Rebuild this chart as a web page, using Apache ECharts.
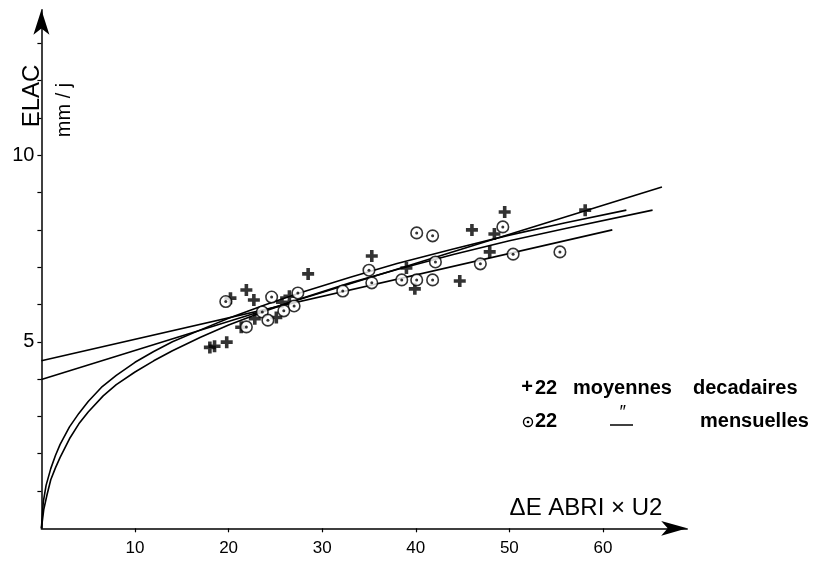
<!DOCTYPE html>
<html><head><meta charset="utf-8">
<script src="https://cdn.jsdelivr.net/npm/echarts@6/dist/echarts.min.js"></script>
<style>html,body{margin:0;padding:0;background:#fff}#c{width:819px;height:571px}</style>
</head><body><div id="c"></div>
<script>
// Axis ticks
const xTicks = [10, 20, 30, 40, 50, 60];
const yMinorTicks = [1, 2, 3, 4, 5, 6, 7, 8, 9, 10, 11, 12, 13];
const yLabels = [5, 10];

// + 22 moyennes decadaires
const decadX = [28.5, 21.9, 22.7, 20.2, 25.7, 26.5, 25.1, 22.8, 21.35, 18.0, 18.5, 19.8, 35.3, 39.0, 39.9, 44.7, 46.0, 48.4, 49.5, 47.9, 58.1];
const decadY = [6.82, 6.39, 6.12, 6.17, 6.06, 6.22, 5.65, 5.62, 5.39, 4.85, 4.88, 4.99, 7.30, 6.98, 6.42, 6.63, 8.00, 7.89, 8.48, 7.41, 8.53];

// (.) 22 mensuelles
const mensX = [19.7, 24.6, 27.4, 27.0, 25.9, 23.6, 24.2, 21.9, 32.2, 35.0, 35.3, 38.5, 40.1, 41.8, 42.1, 40.1, 41.8, 46.9, 49.3, 50.4, 55.4];
const mensY = [6.08, 6.20, 6.31, 5.96, 5.83, 5.80, 5.58, 5.40, 6.36, 6.92, 6.58, 6.66, 6.66, 6.66, 7.14, 7.92, 7.84, 7.09, 8.08, 7.35, 7.41];

// fitted lines and curves
const lineAX = [0, 61.0];
const lineAY = [4.49, 8.0];
const lineBX = [0, 66.3];
const lineBY = [3.99, 9.15];
const curveCX = [0, 0.2, 0.5, 1, 1.5, 2, 3, 4, 5, 6.5, 8, 10, 12, 14, 17, 20, 24, 28, 33, 38, 44, 50, 56, 62.5];
const curveCY = [0, 0.7, 1.15, 1.6, 1.95, 2.25, 2.72, 3.08, 3.4, 3.8, 4.1, 4.45, 4.74, 5.0, 5.32, 5.63, 6.0, 6.34, 6.73, 7.1, 7.49, 7.86, 8.19, 8.53];
const curveDX = [0, 0.25, 0.6, 1, 1.5, 2, 3, 4, 5, 6.6, 8, 10, 12, 14, 17, 20, 24, 28, 33, 38, 44, 50, 56, 65.3];
const curveDY = [0, 0.5, 0.9, 1.3, 1.62, 1.9, 2.4, 2.8, 3.12, 3.55, 3.85, 4.19, 4.49, 4.76, 5.12, 5.45, 5.83, 6.18, 6.58, 6.94, 7.34, 7.71, 8.04, 8.53];

const zip = (xs, ys) => xs.map((x, i) => [x, ys[i]]);
const INK = '#000';
const FONT = 'Liberation Sans';
const plusPath = 'path://M3.5,0 H6.5 V3.5 H10 V6.5 H6.5 V10 H3.5 V6.5 H0 V3.5 H3.5 Z';

const lineSeries = (xs, ys) => ({
  type: 'line', data: zip(xs, ys), showSymbol: false, symbol: 'none', smooth: false,
  lineStyle: { color: INK, width: 1.6, join: 'round' }, z: 2, silent: true
});

const chart = echarts.init(document.getElementById('c'), null, { renderer: 'canvas' });
chart.setOption({
  animation: false,
  backgroundColor: '#fff',
  grid: { left: 41.4, right: 131.8, top: 9.83, bottom: 42.7 },
  xAxis: {
    type: 'value', min: 0, max: 69,
    splitLine: { show: false },
    axisLine: { onZero: false, lineStyle: { color: INK, width: 1.5 }, symbol: ['none', 'arrow'], symbolSize: [11, 26] },
    axisTick: { customValues: xTicks, length: 4, lineStyle: { color: INK, width: 1.2 } },
    axisLabel: { customValues: xTicks, fontSize: 17, color: INK, margin: 12, fontFamily: FONT }
  },
  yAxis: {
    type: 'value', min: 0, max: 13.9,
    splitLine: { show: false },
    axisLine: { onZero: false, lineStyle: { color: INK, width: 1.5 }, symbol: ['none', 'arrow'], symbolSize: [12, 25] },
    axisTick: { customValues: yMinorTicks, length: 4, lineStyle: { color: INK, width: 1.2 } },
    axisLabel: { customValues: yLabels, fontSize: 20, color: INK, margin: 7, fontFamily: FONT }
  },
  series: [
    lineSeries(lineAX, lineAY),
    lineSeries(lineBX, lineBY),
    lineSeries(curveCX, curveCY),
    lineSeries(curveDX, curveDY),
    { type: 'scatter', data: zip(decadX, decadY), symbol: plusPath, symbolSize: 12,
      itemStyle: { color: INK }, z: 3 },
    { type: 'scatter', data: zip(mensX, mensY), symbol: 'circle', symbolSize: 11.5,
      itemStyle: { color: '#fff', borderColor: INK, borderWidth: 1.6 }, z: 4 },
    { type: 'scatter', data: zip(mensX, mensY), symbol: 'circle', symbolSize: 3,
      itemStyle: { color: INK }, z: 5 }
  ],
  graphic: [
    { type: 'text', x: 32.5, y: 96, rotation: Math.PI / 2,
      style: { text: 'ELAC', font: '24px ' + FONT, fill: INK, align: 'center', verticalAlign: 'middle' } },
    { type: 'text', x: 64, y: 110, rotation: Math.PI / 2,
      style: { text: 'mm / j', font: '20px ' + FONT, fill: INK, align: 'center', verticalAlign: 'middle' } },
    { type: 'text', x: 586, y: 508,
      style: { text: 'ΔE ABRI × U2', font: '24px ' + FONT, fill: INK, align: 'center', verticalAlign: 'middle' } },
    // legend row 1
    { type: 'text', x: 527, y: 387, style: { text: '+', font: 'bold 20px ' + FONT, fill: INK, align: 'center', verticalAlign: 'middle' } },
    { type: 'text', x: 535, y: 388, style: { text: '22', font: 'bold 20px ' + FONT, fill: INK, align: 'left', verticalAlign: 'middle' } },
    { type: 'text', x: 573, y: 388, style: { text: 'moyennes', font: 'bold 20px ' + FONT, fill: INK, align: 'left', verticalAlign: 'middle' } },
    { type: 'text', x: 693, y: 388, style: { text: 'decadaires', font: 'bold 20px ' + FONT, fill: INK, align: 'left', verticalAlign: 'middle' } },
    // legend row 2
    { type: 'circle', shape: { cx: 528, cy: 422, r: 4.5 }, style: { fill: '#fff', stroke: INK, lineWidth: 1.4 } },
    { type: 'circle', shape: { cx: 528, cy: 422, r: 1.3 }, style: { fill: INK } },
    { type: 'text', x: 535, y: 421, style: { text: '22', font: 'bold 20px ' + FONT, fill: INK, align: 'left', verticalAlign: 'middle' } },
    { type: 'text', x: 622, y: 413, style: { text: '″', font: 'italic 18px ' + FONT, fill: INK, align: 'center', verticalAlign: 'middle' } },
    { type: 'line', shape: { x1: 610, y1: 425, x2: 633, y2: 425 }, style: { stroke: INK, lineWidth: 1.5 } },
    { type: 'text', x: 700, y: 421, style: { text: 'mensuelles', font: 'bold 20px ' + FONT, fill: INK, align: 'left', verticalAlign: 'middle' } }
  ]
});
</script>
</body></html>
